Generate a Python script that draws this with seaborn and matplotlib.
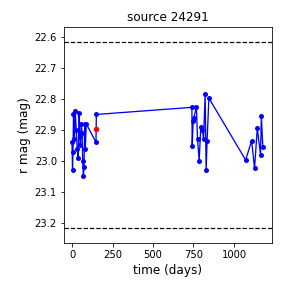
import numpy as np
import pandas as pd
import matplotlib
matplotlib.use("Agg")
import matplotlib.pyplot as plt
import seaborn as sns

# light curve values
time_days = [0, 3, 6, 9, 14, 20, 26, 32, 38, 44, 48, 52, 58, 62, 66, 70, 74, 78, 82, 88,
             148, 150,
             740, 742, 748, 752, 768, 775, 785, 795, 805, 812, 822, 828, 834, 845,
             1072, 1109, 1127, 1144, 1164, 1169, 1178]
r_mag = [22.94, 23.03, 22.97, 22.85, 22.93, 22.84, 22.90, 22.96, 22.99, 22.845, 22.92, 22.95,
         22.88, 22.91, 23.00, 23.05, 23.02, 22.88, 22.96, 22.88,
         22.94, 22.85,
         22.827, 22.953, 22.87, 22.86, 22.827, 22.93, 23.00, 22.89, 22.90, 22.93, 22.785,
         23.03, 22.935, 22.797,
         22.997, 22.935, 23.024, 22.895, 22.98, 22.855, 22.954]
flag_time = [148]
flag_mag = [22.897]
limit_mags = [22.616, 23.216]

df = pd.DataFrame({"time": time_days, "mag": r_mag})

fig, ax = plt.subplots(figsize=(4, 4), dpi=72)
sns.lineplot(data=df, x="time", y="mag", sort=False, marker="o", color="blue",
             markersize=5, markeredgewidth=0, linewidth=1.3, ax=ax)
sns.scatterplot(x=flag_time, y=flag_mag, color="red", s=30, linewidth=0, ax=ax, zorder=5)
for m in limit_mags:
    ax.axhline(m, color="black", linestyle="--", linewidth=1.2)

ax.set_xlim(-50, 1234)
ax.set_ylim(23.265, 22.568)
ax.set_xticks([0, 250, 500, 750, 1000])
ax.set_yticks([22.6, 22.7, 22.8, 22.9, 23.0, 23.1, 23.2])
ax.set_xlabel("time (days)", fontsize=12)
ax.set_ylabel("r mag (mag)", fontsize=12)
ax.set_title("source 24291", fontsize=12)
fig.subplots_adjust(left=0.222, right=0.944, bottom=0.156, top=0.906)
fig.savefig("out.png", dpi=72)
